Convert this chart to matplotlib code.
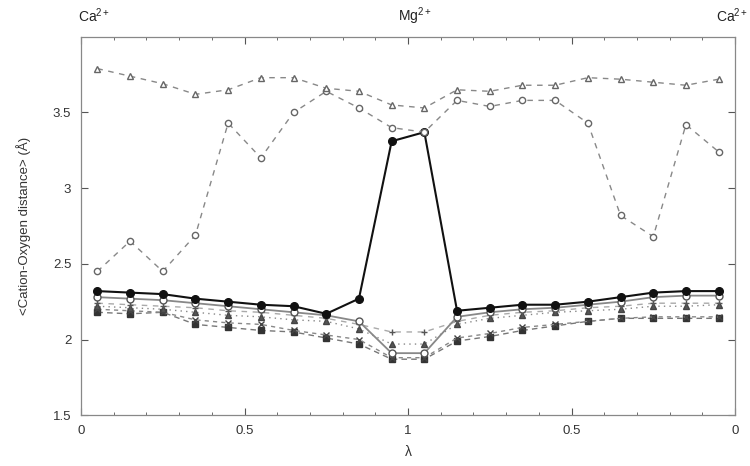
import matplotlib
matplotlib.use("Agg")
import matplotlib.pyplot as plt
import numpy as np

plt.rcParams['font.family'] = ['Liberation Sans', 'DejaVu Sans']
plt.rcParams['mathtext.fontset'] = 'custom'
plt.rcParams['mathtext.rm'] = 'Liberation Sans'
plt.rcParams['mathtext.it'] = 'Liberation Sans:italic'

# lambda path Ca -> Mg -> Ca (0..2)
lam = [0.05, 0.15, 0.25, 0.35, 0.45, 0.55, 0.65, 0.75, 0.85, 0.95,
       1.05, 1.15, 1.25, 1.35, 1.45, 1.55, 1.65, 1.75, 1.85, 1.95]

tri_open = [3.79, 3.74, 3.69, 3.62, 3.65, 3.73, 3.73, 3.66, 3.64, 3.55,
            3.53, 3.65, 3.64, 3.68, 3.68, 3.73, 3.72, 3.70, 3.68, 3.72]
circ_dash = [2.45, 2.65, 2.45, 2.69, 3.43, 3.20, 3.50, 3.64, 3.53, 3.40,
             3.37, 3.58, 3.54, 3.58, 3.58, 3.43, 2.82, 2.68, 3.42, 3.24]
black_solid = [2.32, 2.31, 2.30, 2.27, 2.25, 2.23, 2.22, 2.17, 2.27, 3.31,
               3.37, 2.19, 2.21, 2.23, 2.23, 2.25, 2.28, 2.31, 2.32, 2.32]
open_solid = [2.28, 2.27, 2.26, 2.24, 2.22, 2.20, 2.18, 2.16, 2.12, 1.91,
              1.91, 2.15, 2.18, 2.20, 2.21, 2.23, 2.25, 2.28, 2.29, 2.29]
plus_dash = [2.24, 2.23, 2.22, 2.21, 2.19, 2.18, 2.16, 2.14, 2.10, 2.05,
             2.05, 2.12, 2.16, 2.18, 2.19, 2.21, 2.22, 2.24, 2.24, 2.24]
tri_dot = [2.22, 2.21, 2.20, 2.18, 2.16, 2.15, 2.13, 2.12, 2.07, 1.97,
           1.97, 2.10, 2.14, 2.16, 2.18, 2.19, 2.20, 2.22, 2.22, 2.23]
x_dash = [2.20, 2.19, 2.18, 2.13, 2.11, 2.10, 2.06, 2.03, 2.00, 1.88,
          1.88, 2.01, 2.04, 2.08, 2.10, 2.12, 2.14, 2.15, 2.15, 2.15]
sq_dash = [2.18, 2.17, 2.18, 2.10, 2.08, 2.06, 2.05, 2.01, 1.97, 1.87,
           1.87, 1.99, 2.02, 2.06, 2.09, 2.12, 2.14, 2.14, 2.14, 2.14]

xtick_pos = [0, 0.5, 1, 1.5, 2]
xtick_lab = ['0', '0.5', '1', '0.5', '0']
ytick_pos = [1.5, 2, 2.5, 3, 3.5]
ytick_lab = ['1.5', '2', '2.5', '3', '3.5']
top_labels = ['Ca$^{2+}$', 'Mg$^{2+}$', 'Ca$^{2+}$']

fig = plt.figure(figsize=(7.5, 4.66), dpi=100)
ax = fig.add_axes([0.108, 0.109, 0.872, 0.812])

ax.plot(lam, sq_dash, linestyle=(0, (4, 3)), color='#777777', lw=1.0,
        marker='s', ms=4, mfc='#333333', mec='#333333')
ax.plot(lam, x_dash, linestyle=(0, (3, 3)), color='#888888', lw=1.0,
        marker='x', ms=5, mec='#444444')
ax.plot(lam, tri_dot, linestyle=(0, (1, 3)), color='#888888', lw=1.0,
        marker='^', ms=4, mfc='#555555', mec='#444444')
ax.plot(lam, plus_dash, linestyle=(0, (4, 4)), color='#aaaaaa', lw=1.0,
        marker='+', ms=5, mec='#555555')
ax.plot(lam, open_solid, linestyle='-', color='#888888', lw=1.3,
        marker='o', ms=5, mfc='white', mec='#555555')
ax.plot(lam, black_solid, linestyle='-', color='#111111', lw=1.5,
        marker='o', ms=5.5, mfc='#111111', mec='#111111')
ax.plot(lam, circ_dash, linestyle=(0, (4, 4)), color='#888888', lw=1.0,
        marker='o', ms=4.5, mfc='white', mec='#666666')
ax.plot(lam, tri_open, linestyle=(0, (4, 4)), color='#888888', lw=1.0,
        marker='^', ms=5, mfc='white', mec='#666666')

ax.set_xlim(0, 2)
ax.set_ylim(1.5, 4.0)
ax.set_xticks(xtick_pos)
ax.set_xticklabels(xtick_lab)
ax.set_xticks(np.arange(0, 2.01, 0.1), minor=True)
ax.set_yticks(ytick_pos)
ax.set_yticklabels(ytick_lab)
ax.tick_params(which='both', direction='in', top=True, right=True,
               colors='#555555', labelcolor='#333333', labelsize=9.5)
ax.tick_params(which='major', length=5, pad=7)
ax.tick_params(which='minor', length=2.5)
for sp in ax.spines.values():
    sp.set_color('#888888')
    sp.set_linewidth(0.9)

ax.set_xlabel('λ', fontsize=10, color='#333333', labelpad=6)
ax.set_ylabel('<Cation-Oxygen distance> (Å)', fontsize=9.5,
              color='#333333', labelpad=16)

fig.text(0.125, 0.966, top_labels[0], ha='center', va='center',
         fontsize=10, color='#222222')
fig.text(0.553, 0.966, top_labels[1], ha='center', va='center',
         fontsize=10, color='#222222')
fig.text(0.997, 0.966, top_labels[2], ha='right', va='center',
         fontsize=10, color='#222222')

fig.savefig('out.png', dpi=100)
